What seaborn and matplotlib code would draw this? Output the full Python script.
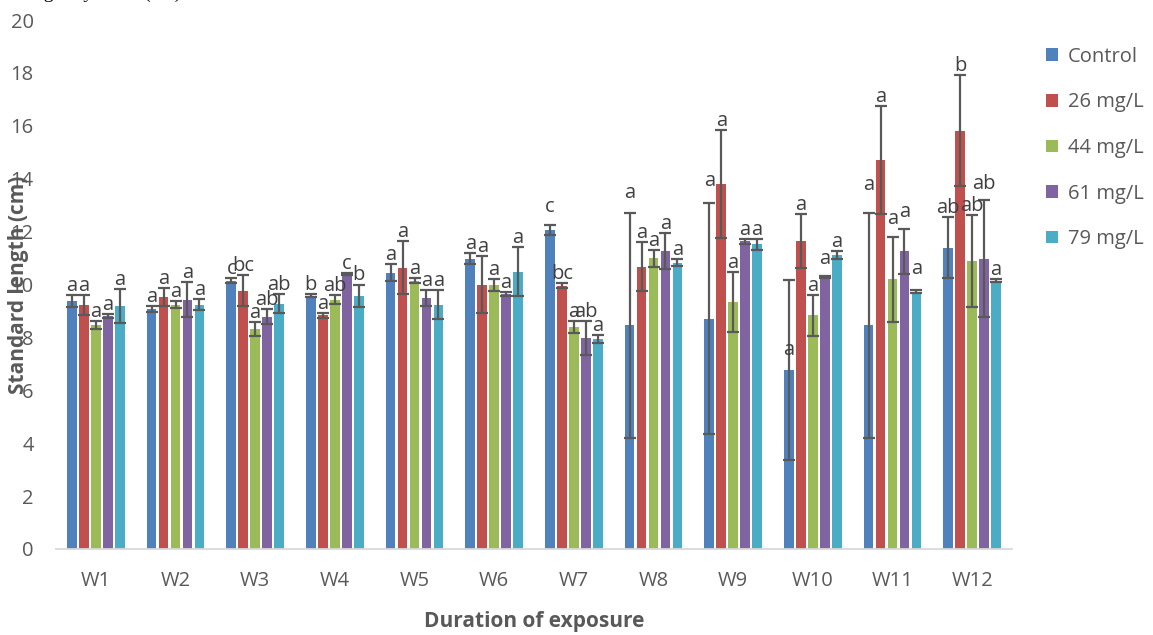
import matplotlib
matplotlib.use("Agg")
import matplotlib.pyplot as plt
import pandas as pd
import seaborn as sns

# Weekly standard length (cm) per exposure group, with error bars and significance letters
weeks = ["W1", "W2", "W3", "W4", "W5", "W6", "W7", "W8", "W9", "W10", "W11", "W12"]
doses = ["Control", "26 mg/L", "44 mg/L", "61 mg/L", "79 mg/L"]

control = [9.39, 9.08, 10.15, 9.58, 10.45, 10.98, 12.07, 8.45, 8.70, 6.78, 8.45, 11.39]
dose_26 = [9.23, 9.53, 9.77, 8.83, 10.64, 9.99, 9.96, 10.68, 13.79, 11.64, 14.70, 15.81]
dose_44 = [8.47, 9.24, 8.32, 9.43, 10.15, 9.99, 8.38, 11.00, 9.33, 8.83, 10.19, 10.88]
dose_61 = [8.81, 9.42, 8.79, 10.40, 9.48, 9.63, 7.97, 11.25, 11.63, 10.28, 11.25, 10.98]
dose_79 = [9.18, 9.24, 9.28, 9.58, 9.24, 10.49, 7.94, 10.82, 11.52, 11.12, 9.73, 10.14]

control_err = [0.23, 0.11, 0.08, 0.05, 0.33, 0.20, 0.19, 4.25, 4.37, 3.40, 4.24, 1.16]
dose_26_err = [0.38, 0.33, 0.59, 0.09, 1.00, 1.07, 0.10, 0.93, 2.04, 1.01, 2.03, 2.10]
dose_44_err = [0.16, 0.13, 0.27, 0.18, 0.09, 0.23, 0.23, 0.32, 1.14, 0.79, 1.62, 1.73]
dose_61_err = [0.09, 0.66, 0.30, 0.03, 0.30, 0.08, 0.65, 0.68, 0.10, 0.05, 0.85, 2.20]
dose_79_err = [0.64, 0.20, 0.35, 0.42, 0.55, 0.93, 0.16, 0.13, 0.20, 0.14, 0.05, 0.05]

control_sig = ["a", "a", "c", "b", "a", "a", "c", "a", "a", "a", "a", "ab"]
dose_26_sig = ["a", "a", "bc", "a", "a", "a", "bc", "a", "a", "a", "a", "b"]
dose_44_sig = ["a", "a", "a", "ab", "a", "a", "a", "a", "a", "a", "a", "ab"]
dose_61_sig = ["a", "a", "ab", "c", "a", "a", "ab", "a", "a", "a", "a", "ab"]
dose_79_sig = ["a", "a", "ab", "b", "a", "a", "a", "a", "a", "a", "a", "a"]

means = [control, dose_26, dose_44, dose_61, dose_79]
errors = [control_err, dose_26_err, dose_44_err, dose_61_err, dose_79_err]
letters = [control_sig, dose_26_sig, dose_44_sig, dose_61_sig, dose_79_sig]

colors = ["#4F81BD", "#C0504D", "#9BBB59", "#8064A2", "#4BACC6"]

df = pd.DataFrame(
    [(w, d, v) for d, vals in zip(doses, means) for w, v in zip(weeks, vals)],
    columns=["week", "dose", "length"],
)

sns.set_theme(style="white")
plt.rcParams["font.family"] = ["Open Sans", "DejaVu Sans"]

TEXT = "#595959"
px = 72 / 100  # points per pixel

fig = plt.figure(figsize=(11.53, 6.35), dpi=100)
ax = fig.add_axes([56 / 1153, 86 / 635, 956 / 1153, 529 / 635])

sns.barplot(
    data=df, x="week", y="length", hue="dose",
    order=weeks, hue_order=doses, palette=colors,
    errorbar=None, width=0.75, gap=0.18, saturation=1,
    linewidth=0, ax=ax,
)
bar_groups = list(ax.containers)

# Extra lift (pixels) for a few letters that sit higher or lower than usual
lift = {
    (0, 6): 9, (0, 7): 11, (0, 8): 13, (0, 9): -79, (0, 10): 19,
    (3, 9): 8, (2, 10): 9, (3, 10): 8, (4, 10): 12, (3, 11): 7,
}

for i, container in enumerate(bar_groups):
    for j, bar in enumerate(container):
        x = bar.get_x() + bar.get_width() / 2
        h = bar.get_height()
        e = errors[i][j]
        ax.errorbar(x, h, yerr=e, fmt="none", ecolor="#595959",
                    elinewidth=1.6, capsize=4.5, capthick=1.6, zorder=3)
        ax.annotate(letters[i][j], (x, h + e),
                    xytext=(0, (4 + lift.get((i, j), 0)) * px),
                    textcoords="offset points", ha="center", va="baseline",
                    fontsize=14.5, color="#404040", zorder=4)

ax.set_xlim(-0.5, len(weeks) - 0.5)
ax.set_ylim(0, 20)
ax.set_yticks(range(0, 21, 2))

for side in ["top", "right", "left"]:
    ax.spines[side].set_visible(False)
ax.spines["bottom"].set_color("#D9D9D9")
ax.spines["bottom"].set_linewidth(1.3)

ax.tick_params(axis="both", length=0, colors=TEXT, labelsize=14.5)
ax.tick_params(axis="y", pad=16)
ax.tick_params(axis="x", pad=16)

ax.set_xlabel("Duration of exposure", fontsize=15, fontweight="bold",
              color=TEXT, labelpad=14)
ax.set_ylabel("Standard length (cm)", fontsize=15, fontweight="bold",
              color=TEXT)
ax.yaxis.label.set_va("center")
ax.yaxis.set_label_coords(-0.039, 0.5)

handles, labels = ax.get_legend_handles_labels()
ax.legend(
    handles, labels, loc="center left",
    bbox_to_anchor=(1046 / 1153, 1 - 148 / 635), bbox_transform=fig.transFigure,
    frameon=False, fontsize=14.5, labelcolor=TEXT,
    handlelength=0.6, handleheight=0.6, handletextpad=0.5,
    labelspacing=1.27, borderpad=0, borderaxespad=0,
)

# Caption line of the page above the chart, mostly cut off by the top edge
fig.text(20 / 1153, 1 + 2 / 635, "length by week (cm)", family="Liberation Serif",
         fontsize=14, color="black", ha="left", va="baseline")

fig.savefig("out.png", dpi=100)
